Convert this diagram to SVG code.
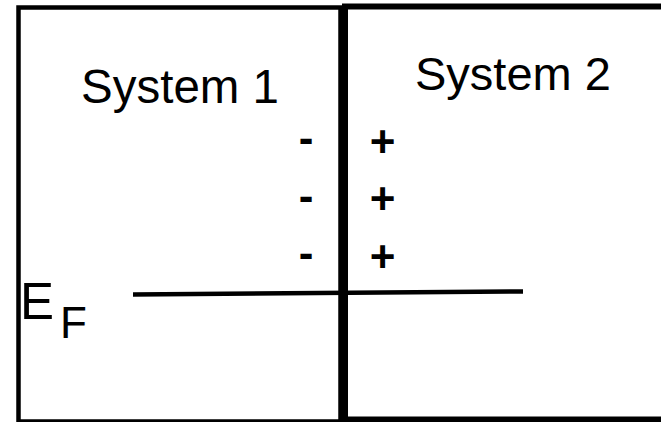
<svg xmlns="http://www.w3.org/2000/svg" width="661" height="422" viewBox="0 0 661 422">
  <style>
    .box { fill: none; stroke: #000; }
    .label { font-family: "Liberation Sans", Arial, sans-serif; fill: #000; }
    .charge { font-family: "Liberation Sans", Arial, sans-serif; font-weight: bold; fill: #000; text-anchor: middle; }
  </style>
  <rect width="661" height="422" fill="#fff"/>

  <!-- left system -->
  <g id="system1">
    <rect class="box" x="18.5" y="7.5" width="322" height="414" stroke-width="4.5"/>
    <text class="label" x="81" y="103" font-size="47.5">System 1</text>
  </g>

  <!-- right system -->
  <g id="system2">
    <rect class="box" x="345" y="6.5" width="330" height="413" stroke-width="6"/>
    <text class="label" x="415" y="90" font-size="47">System 2</text>
  </g>

  <!-- charges at the interface -->
  <g id="charges">
    <text class="charge" x="306" y="153" font-size="44">-</text>
    <text class="charge" x="306" y="211" font-size="44">-</text>
    <text class="charge" x="306" y="268" font-size="44">-</text>
    <text class="charge" x="382.5" y="157" font-size="44">+</text>
    <text class="charge" x="382.5" y="214" font-size="44">+</text>
    <text class="charge" x="382.5" y="271.5" font-size="44">+</text>
  </g>

  <!-- Fermi level -->
  <g id="fermi-level">
    <line x1="133" y1="294.5" x2="523" y2="291.5" stroke="#000" stroke-width="4.5"/>
    <text class="label" x="20" y="319" font-size="51">E</text>
    <text class="label" x="60" y="338" font-size="44">F</text>
  </g>
</svg>
